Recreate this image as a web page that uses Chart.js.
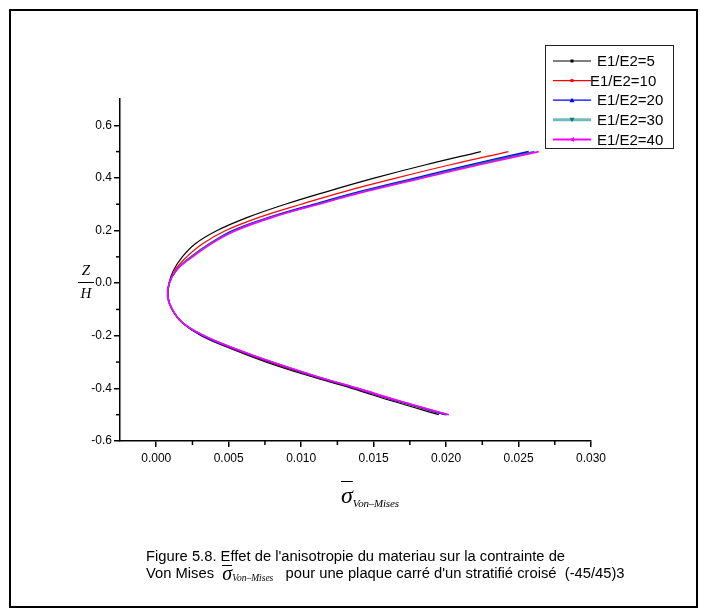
<!DOCTYPE html>
<html>
<head>
<meta charset="utf-8">
<script src="https://cdn.jsdelivr.net/npm/chart.js@4.4.1/dist/chart.umd.min.js"></script>
<style>
  html, body { margin: 0; padding: 0; background: #fff; }
  #wrap { position: relative; width: 701px; height: 611px; overflow: hidden; }
  #frame { position: absolute; left: 9px; top: 9px; width: 689px; height: 599px; border: 2px solid #000; box-sizing: border-box; pointer-events: none; }
  canvas { position: absolute; left: 0; top: 0; }
  .serif { font-family: "Liberation Serif", "Times New Roman", serif; font-style: italic; color: #000; }
  #ytitle { position: absolute; left: 78px; top: 262px; width: 16px; text-align: center; font-size: 15px; line-height: 17px; }
  #ytitle .bar { border-top: 1px solid #000; margin: 3px 0 2px 0; }
  #xtitle { position: absolute; left: 341px; top: 482px; font-size: 24px; white-space: nowrap; }
  .sig { text-decoration: overline; text-decoration-thickness: 1px; }
  .sub { font-size: 11px; vertical-align: -4px; letter-spacing: -0.2px; }
  #caption { position: absolute; left: 146px; top: 548px; font-family: "Liberation Sans", Arial, sans-serif; font-size: 14.75px; color: #000; white-space: nowrap; }
  #caption div { height: 17px; line-height: 17px; }
  #caption .sig2 { display: inline-block; font-family: "Liberation Serif", serif; font-style: italic; font-size: 20px; line-height: 12px; border-top: 1px solid #000; padding-top: 1px; vertical-align: -2px; }
  #caption .sub2 { font-family: "Liberation Serif", serif; font-style: italic; font-size: 9.5px; line-height: 0; vertical-align: -3px; }
</style>
</head>
<body>
<div id="wrap">
  <canvas id="chart" width="701" height="611"></canvas>
  <div id="frame"></div>
  <div id="ytitle" class="serif"><div>Z</div><div class="bar"></div><div>H</div></div>
  <div id="xtitle" class="serif"><span class="sig">σ</span><span class="sub">Von–Mises</span></div>
  <div id="caption">
    <div>Figure 5.8. Effet de l'anisotropie du materiau sur la contrainte de</div>
    <div>Von Mises&nbsp; <span class="sig2">σ</span><span class="sub2">Von–Mises</span>&nbsp;&nbsp; pour une plaque carré d'un stratifié croisé&nbsp; (-45/45)3</div>
  </div>
</div>
<script>
// Z/H positions shared by every curve
const zValues = [-0.5, -0.45, -0.4, -0.35, -0.3, -0.25, -0.2, -0.15, -0.1, -0.05,
                 0, 0.05, 0.1, 0.15, 0.2, 0.25, 0.3, 0.35, 0.4, 0.45, 0.5];

// Von Mises stress, one array per ratio
const sigmaE5  = [0.0195, 0.0164, 0.0135, 0.0104, 0.0076, 0.0052, 0.0031, 0.0018, 0.0011, 0.00080,
                  0.00088, 0.0012, 0.0018, 0.0027, 0.0042, 0.0063, 0.0089, 0.0119, 0.0151, 0.0186, 0.0224];
const sigmaE10 = [0.0199, 0.0167, 0.0137, 0.0106, 0.0078, 0.0053, 0.0032, 0.0018, 0.0011, 0.00080,
                  0.00089, 0.0013, 0.0021, 0.0032, 0.0048, 0.0071, 0.0100, 0.0131, 0.0166, 0.0203, 0.0243];
const sigmaE20 = [0.0200, 0.0168, 0.0138, 0.0107, 0.0079, 0.0054, 0.0032, 0.0018, 0.0011, 0.00080,
                  0.0009, 0.0014, 0.0024, 0.0037, 0.0053, 0.0078, 0.0109, 0.0142, 0.0179, 0.0217, 0.0257];
const sigmaE30 = [0.0201, 0.0169, 0.0139, 0.0108, 0.0080, 0.0055, 0.0033, 0.0018, 0.0011, 0.00079,
                  0.0009, 0.0014, 0.0024, 0.0037, 0.0054, 0.0079, 0.0111, 0.0144, 0.0182, 0.0220, 0.0261];
const sigmaE40 = [0.0202, 0.0169, 0.0139, 0.0108, 0.0080, 0.0055, 0.0033, 0.0018, 0.0011, 0.00078,
                  0.0009, 0.0014, 0.0025, 0.0038, 0.0055, 0.0080, 0.0112, 0.0146, 0.0184, 0.0223, 0.0264];

const seriesLabels = ['E1/E2=5', 'E1/E2=10', 'E1/E2=20', 'E1/E2=30', 'E1/E2=40'];
const seriesValues = [sigmaE5, sigmaE10, sigmaE20, sigmaE30, sigmaE40];
const seriesColors = ['#000000', '#ff0000', '#0000ff', '#008080', '#ff00ff'];
const seriesMarkers = ['rect', 'rect', 'triangle', 'triangleDown', 'triangleLeft'];

const xTickValues = [0, 0.005, 0.010, 0.015, 0.020, 0.025, 0.030];
const xMinorTicks = [0.0025, 0.0075, 0.0125, 0.0175, 0.0225, 0.0275];
const yTickValues = [-0.6, -0.4, -0.2, 0.0, 0.2, 0.4, 0.6];
const yMinorTicks = [-0.5, -0.3, -0.1, 0.1, 0.3, 0.5];

const tickFont = { family: '"Liberation Sans", Arial, sans-serif', size: 12 };

const datasets = seriesValues.map((vals, i) => ({
    label: seriesLabels[i],
    data: vals.map((v, k) => ({ x: v, y: zValues[k] })),
    borderColor: seriesColors[i],
    backgroundColor: seriesColors[i],
    borderWidth: i === 0 || i === 1 ? 1.2 : 1.6,
    showLine: true,
    pointRadius: 0,
    tension: 0.4,
    order: seriesValues.length - i // black at the back, magenta in front
}));

function drawMarker(ctx, kind, x, y, color) {
    ctx.fillStyle = color;
    ctx.beginPath();
    if (kind === 'rect') {
        ctx.rect(x - 1.5, y - 1.5, 3, 3);
    } else if (kind === 'triangle') {
        ctx.moveTo(x, y - 2.5); ctx.lineTo(x + 2.5, y + 2); ctx.lineTo(x - 2.5, y + 2);
    } else if (kind === 'triangleDown') {
        ctx.moveTo(x, y + 2.5); ctx.lineTo(x + 2.5, y - 2); ctx.lineTo(x - 2.5, y - 2);
    } else {
        ctx.moveTo(x - 2.5, y); ctx.lineTo(x + 2, y - 2.5); ctx.lineTo(x + 2, y + 2.5);
    }
    ctx.closePath();
    ctx.fill();
}

// minor ticks and the boxed legend
const extrasPlugin = {
    id: 'extras',
    afterDraw(chart) {
        const ctx = chart.ctx;
        const xs = chart.scales.x, ys = chart.scales.y;
        ctx.save();
        ctx.strokeStyle = '#000';
        ctx.lineWidth = 1.5;
        xMinorTicks.forEach(v => {
            const px = xs.getPixelForValue(v);
            ctx.beginPath(); ctx.moveTo(px, ys.bottom); ctx.lineTo(px, ys.bottom + 4); ctx.stroke();
        });
        yMinorTicks.forEach(v => {
            const py = ys.getPixelForValue(v);
            ctx.beginPath(); ctx.moveTo(xs.left, py); ctx.lineTo(xs.left - 4, py); ctx.stroke();
        });

        // legend
        const lx = 545.5, ly = 45.5, lw = 128, lh = 103, rowH = 19.6;
        ctx.fillStyle = '#fff';
        ctx.fillRect(lx, ly, lw, lh);
        ctx.strokeStyle = '#222';
        ctx.lineWidth = 1;
        ctx.strokeRect(lx, ly, lw, lh);
        ctx.font = '15px "Liberation Sans", Arial, sans-serif';
        ctx.textBaseline = 'middle';
        seriesLabels.forEach((lab, i) => {
            const cy = ly + 15.5 + i * rowH;
            ctx.strokeStyle = i === 3 ? 'rgba(0,128,128,0.55)' : seriesColors[i];
            ctx.lineWidth = i === 3 ? 3 : (i === 4 ? 2 : 1.2);
            ctx.beginPath(); ctx.moveTo(553, cy); ctx.lineTo(591, cy); ctx.stroke();
            drawMarker(ctx, seriesMarkers[i], 572, cy, seriesColors[i]);
            ctx.fillStyle = '#000';
            ctx.fillText(lab, i === 1 ? 590 : 597, cy + 1);
        });
        ctx.restore();
    }
};

new Chart(document.getElementById('chart'), {
    type: 'scatter',
    data: { datasets },
    plugins: [extrasPlugin],
    options: {
        responsive: false,
        animation: false,
        layout: { padding: { left: 0, top: 99, right: 110, bottom: 0 } },
        plugins: { legend: { display: false }, tooltip: { enabled: false } },
        scales: {
            x: {
                type: 'linear',
                min: -0.0025,
                max: 0.030,
                afterFit: s => { s.height = 170; },
                afterBuildTicks: s => { s.ticks = xTickValues.map(v => ({ value: v })); },
                border: { display: true, color: '#000', width: 1.5 },
                grid: { drawOnChartArea: false, drawTicks: true, tickLength: 6, color: '#000', lineWidth: 1.5 },
                ticks: { color: '#000', font: tickFont, padding: 4, maxRotation: 0,
                         callback: v => v.toFixed(3) }
            },
            y: {
                type: 'linear',
                min: -0.6,
                max: 0.7,
                afterFit: s => { s.width = 120; },
                afterBuildTicks: s => { s.ticks = yTickValues.map(v => ({ value: v })); },
                border: { display: true, color: '#000', width: 1.5 },
                grid: { drawOnChartArea: false, drawTicks: true, tickLength: 6, color: '#000', lineWidth: 1.5 },
                ticks: { color: '#000', font: tickFont, padding: 2,
                         callback: v => v.toFixed(1) }
            }
        }
    }
});
</script>
</body>
</html>
